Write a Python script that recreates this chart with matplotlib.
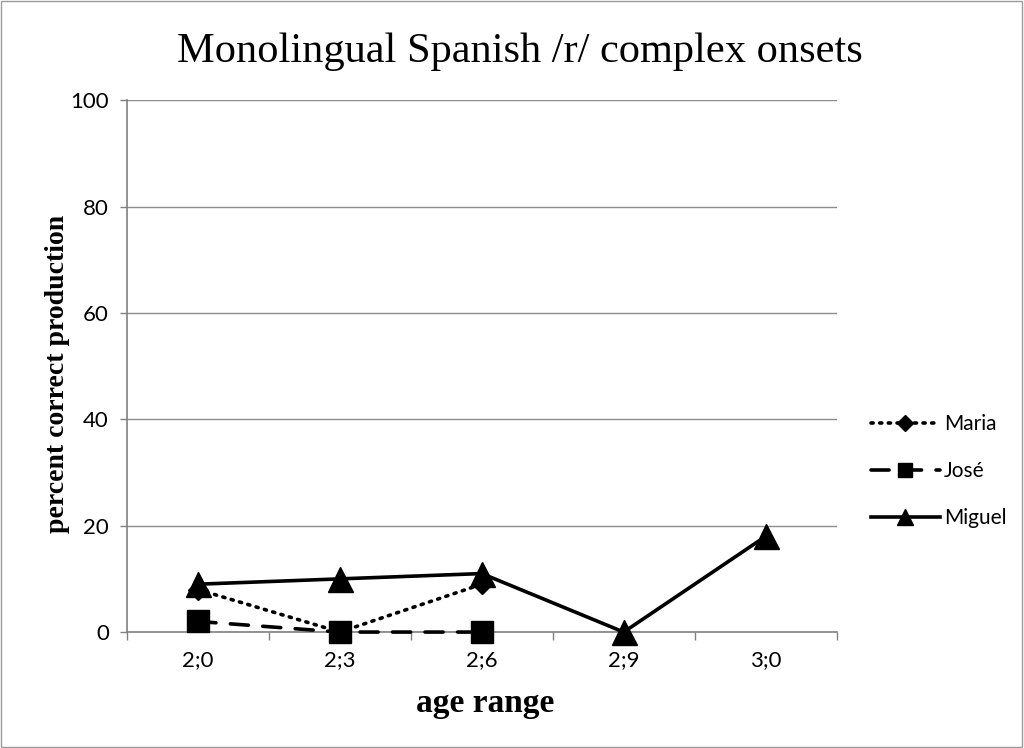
"""
Monolingual Spanish /r/ complex onsets - gráfico de linhas por criança.
"""

import matplotlib.pyplot as plt
from matplotlib.lines import Line2D
from matplotlib.patches import Rectangle

# ── Dados ──────────────────────────────────────────────
idades = ["2;0", "2;3", "2;6", "2;9", "3;0"]
maria = [8, 0, 9]
jose = [2, 0, 0]
miguel = [9, 10, 11, 0, 18]
yticks = [0, 20, 40, 60, 80, 100]

SERIF = "Liberation Serif"
SANS = "Lato"

# estilo de cada série: (rótulo, linha, marcador, tamanho no gráfico, tamanho na legenda)
estilos = [
    ("Maria", (0, (0.6, 1.8)), "D", 10, 8),
    ("José", (0, (5, 4)), "s", 16, 10),
    ("Miguel", "-", "^", 18, 11),
]

fig = plt.figure(figsize=(10.24, 7.48), dpi=100)
ax = fig.add_axes([0.124, 0.155, 0.693, 0.711])

xs = list(range(len(idades)))

for (nome, ls, mk, ms, _), valores in zip(estilos, [maria, jose, miguel]):
    ax.plot(xs[:len(valores)], valores, color="black", linestyle=ls,
            dash_capstyle="round", linewidth=2.6, marker=mk, markersize=ms,
            clip_on=False, zorder=4 if nome == "Miguel" else 3)

# ── Eixos ──────────────────────────────────────────────
ax.set_xlim(-0.5, len(idades) - 0.5)
ax.set_ylim(0, 100)
ax.set_yticks(yticks)
ax.set_xticks(xs)
ax.set_xticklabels(idades, family=SANS, fontsize=16)
ax.tick_params(axis="x", which="major", length=0, pad=13)
ax.set_xticks([x - 0.5 for x in range(len(idades) + 1)], minor=True)
ax.tick_params(axis="x", which="minor", length=6, width=1, color="#808080",
               direction="out")
ax.tick_params(axis="y", length=5, width=1, color="#808080", direction="out",
               labelsize=16, pad=8)
for lbl in ax.get_yticklabels():
    lbl.set_family(SANS)

ax.grid(axis="y", color="#8c8c8c", linewidth=1)
ax.set_axisbelow(True)
for lado in ["top", "right"]:
    ax.spines[lado].set_visible(False)
for lado in ["left", "bottom"]:
    ax.spines[lado].set_color("#808080")
    ax.spines[lado].set_linewidth(1.2)

# ── Títulos ────────────────────────────────────────────
fig.text(0.508, 0.931, "Monolingual Spanish /r/ complex onsets",
         family=SERIF, fontsize=30.5, ha="center", va="center")
fig.text(0.474, 0.060, "age range", family=SERIF, fontsize=24,
         fontweight="bold", ha="center", va="center")
fig.text(0.056, 0.500, "percent correct production", family=SERIF,
         fontsize=20, fontweight="bold", rotation=90, ha="center",
         va="center")

# ── Legenda ────────────────────────────────────────────
handles = [
    Line2D([], [], color="black", linestyle=ls, dash_capstyle="round",
           linewidth=2.6, marker=mk, markersize=mleg)
    for _, ls, mk, _, mleg in estilos
]
ax.legend(handles, [e[0] for e in estilos], loc="center left",
          bbox_to_anchor=(1.022, 0.303), frameon=False, handlelength=3.3,
          labelspacing=1.3, handletextpad=0.2,
          prop={"family": SANS, "size": 15})

# moldura da figura
fig.patches.append(Rectangle((0.001, 0.001), 0.997, 0.997,
                             transform=fig.transFigure, fill=False,
                             edgecolor="#9a9a9a", linewidth=1))

fig.savefig("out.png", dpi=100)
plt.close(fig)
